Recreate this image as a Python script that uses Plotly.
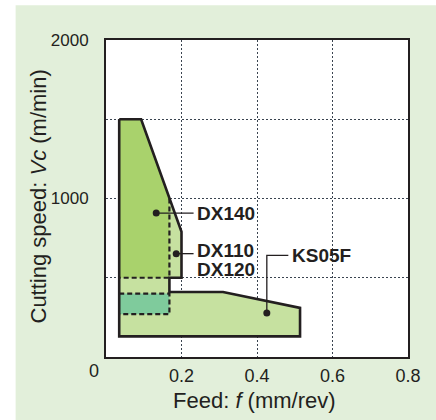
import plotly.graph_objects as go

# ---- data -------------------------------------------------------------
feed_ticks = [0.2, 0.4, 0.6, 0.8]
feed_tick_text = ["0.2", "0.4", "0.6", "0.8"]
speed_grid = [500, 1000, 1500, 2000]
speed_tick_text = ["", "1000", "", "2000"]

# overall application area (outline of all grades)
outline_f = [0.035, 0.093, 0.2, 0.2, 0.168, 0.168, 0.31, 0.514, 0.514, 0.035, 0.035]
outline_vc = [1500, 1500, 790, 500, 500, 410, 410, 310, 130, 130, 1500]

# DX140 area
dx140_f = [0.035, 0.093, 0.168, 0.168, 0.035, 0.035]
dx140_vc = [1500, 1500, 1000, 500, 500, 1500]
dx140_edge_f = [0.168, 0.168, 0.035]
dx140_edge_vc = [1000, 500, 500]

# overlap area (teal)
overlap_f = [0.035, 0.168, 0.168, 0.035, 0.035]
overlap_vc = [400, 400, 270, 270, 400]
overlap_edge_f = [0.035, 0.168, 0.168, 0.035]
overlap_edge_vc = [400, 400, 270, 270]

# labels
label_text = ["DX140", "DX110", "DX120", "KS05F"]
label_f = [0.236, 0.236, 0.236, 0.487]
label_vc = [908, 672, 551, 641]
dot_f = [0.133, 0.186, 0.426]
dot_vc = [908, 652, 277]
leader_f = [0.133, 0.232, None, 0.186, 0.232, None, 0.426, 0.426, 0.483]
leader_vc = [908, 908, None, 652, 652, None, 277, 641, 641]

# ---- styles -----------------------------------------------------------
INK = "#231f20"
BG = "#e2efda"
LIGHT = "#c6e1a0"
DARK = "#a9d26c"
TEAL = "#7fcb9c"
GRID = "#3a4450"
FONT = "Liberation Sans, Arial, sans-serif"

fig = go.Figure()
fig.add_trace(go.Scatter(x=outline_f, y=outline_vc, fill="toself", fillcolor=LIGHT,
                         mode="lines", line=dict(width=0), hoverinfo="skip"))
fig.add_trace(go.Scatter(x=dx140_f, y=dx140_vc, fill="toself", fillcolor=DARK,
                         mode="lines", line=dict(width=0), hoverinfo="skip"))
fig.add_trace(go.Scatter(x=overlap_f, y=overlap_vc, fill="toself", fillcolor=TEAL,
                         mode="lines", line=dict(width=0), hoverinfo="skip"))
fig.add_trace(go.Scatter(x=dx140_edge_f, y=dx140_edge_vc, mode="lines",
                         line=dict(color=INK, width=2.2, dash="5px,3px"), hoverinfo="skip"))
fig.add_trace(go.Scatter(x=overlap_edge_f, y=overlap_edge_vc, mode="lines",
                         line=dict(color=INK, width=2.2, dash="5px,3px"), hoverinfo="skip"))
fig.add_trace(go.Scatter(x=outline_f, y=outline_vc, mode="lines",
                         line=dict(color=INK, width=2.6), hoverinfo="skip"))
fig.add_trace(go.Scatter(x=leader_f, y=leader_vc, mode="lines",
                         line=dict(color=INK, width=1.3), hoverinfo="skip"))
fig.add_trace(go.Scatter(x=dot_f, y=dot_vc, mode="markers",
                         marker=dict(color=INK, size=7), hoverinfo="skip"))

for t, xf, yv in zip(label_text, label_f, label_vc):
    fig.add_annotation(x=xf, y=yv, text="<b>%s</b>" % t, showarrow=False,
                       xanchor="left", yanchor="middle",
                       font=dict(family=FONT, size=19, color=INK))

# axis titles and the offset "0" label
fig.add_annotation(x=0.5, y=0, xref="paper", yref="paper", yshift=-43, xshift=-3,
                   text="Feed: <i>f</i> (mm/rev)", showarrow=False,
                   xanchor="center", yanchor="middle",
                   font=dict(family=FONT, size=22, color=INK))
fig.add_annotation(x=0, y=0.5, xref="paper", yref="paper", xshift=-68, yshift=2,
                   text="Cutting speed: <i>Vc</i> (m/min)", showarrow=False, textangle=-90,
                   xanchor="center", yanchor="middle",
                   font=dict(family=FONT, size=22, color=INK))
fig.add_annotation(x=0, y=0, xref="x", yref="paper", xshift=-12, yshift=-14,
                   text="0", showarrow=False, xanchor="center", yanchor="middle",
                   font=dict(family=FONT, size=18, color=INK))

# white page corner strips (background panel starts at 15px / 5px)
fig.add_shape(type="rect", xref="paper", yref="paper", x0=-0.40, x1=-0.2993,
              y0=-0.3, y1=1.2, fillcolor="white", line=dict(width=0), layer="below")
fig.add_shape(type="rect", xref="paper", yref="paper", x0=-0.40, x1=1.2,
              y0=1.1099, y1=1.2, fillcolor="white", line=dict(width=0), layer="below")

fig.update_xaxes(range=[0, 0.8], tickvals=feed_ticks, ticktext=feed_tick_text,
                 showgrid=True, gridcolor=GRID, griddash="2px,2px", gridwidth=1,
                 showline=True, linecolor=INK, linewidth=2, mirror=True,
                 zeroline=False, ticks="", ticklabelstandoff=1,
                 tickfont=dict(family=FONT, size=18, color=INK))
fig.update_yaxes(range=[0, 2000], tickvals=speed_grid, ticktext=speed_tick_text,
                 showgrid=True, gridcolor=GRID, griddash="2px,2px", gridwidth=1,
                 showline=True, linecolor=INK, linewidth=2, mirror=True,
                 zeroline=False, ticks="", ticklabelstandoff=12,
                 tickfont=dict(family=FONT, size=17, color=INK))

fig.update_layout(width=436, height=420, showlegend=False,
                  margin=dict(l=106, r=28, t=40, b=63, autoexpand=False),
                  paper_bgcolor=BG, plot_bgcolor="white")

fig.write_html("out.html")
